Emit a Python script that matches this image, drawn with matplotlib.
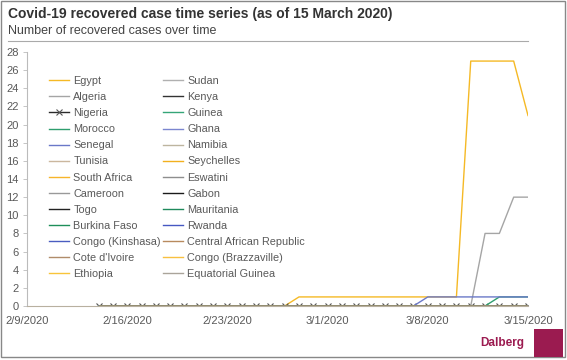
import numpy as np
import pandas as pd
import matplotlib
matplotlib.use('Agg')
import matplotlib.pyplot as plt
from matplotlib.patches import Rectangle

plt.rcParams['font.family'] = ['Liberation Sans', 'DejaVu Sans']

# daily data, 2/14/2020 .. 3/15/2020
dates = pd.date_range('2020-02-14', '2020-03-15', freq='D')
n = len(dates)
zeros = [0] * n

egypt = [0, 0, 0, 0, 0, 0, 0, 0, 0, 0, 0, 0, 0, 0, 1, 1, 1, 1, 1, 1, 1, 1, 1, 1, 1, 1, 27, 27, 27, 27, 21]
algeria = [0, 0, 0, 0, 0, 0, 0, 0, 0, 0, 0, 0, 0, 0, 0, 0, 0, 0, 0, 0, 0, 0, 0, 0, 0, 0, 0, 8, 8, 12, 12]
morocco = [0, 0, 0, 0, 0, 0, 0, 0, 0, 0, 0, 0, 0, 0, 0, 0, 0, 0, 0, 0, 0, 0, 0, 0, 0, 0, 0, 0, 1, 1, 1]
senegal = [0, 0, 0, 0, 0, 0, 0, 0, 0, 0, 0, 0, 0, 0, 0, 0, 0, 0, 0, 0, 0, 0, 0, 1, 1, 1, 1, 1, 1, 1, 1]

countries = ['Egypt', 'Algeria', 'Nigeria', 'Morocco', 'Senegal', 'Tunisia',
             'South Africa', 'Cameroon', 'Togo', 'Burkina Faso',
             'Congo (Kinshasa)', "Cote d'Ivoire", 'Ethiopia', 'Sudan', 'Kenya',
             'Guinea', 'Ghana', 'Namibia', 'Seychelles', 'Eswatini', 'Gabon',
             'Mauritania', 'Rwanda', 'Central African Republic',
             'Congo (Brazzaville)', 'Equatorial Guinea']
values = {c: zeros for c in countries}
values['Egypt'] = egypt
values['Algeria'] = algeria
values['Morocco'] = morocco
values['Senegal'] = senegal

colors = ['#f5b925', '#a5a5a5', '#2a2a2a', '#2e9e6e', '#6a78c8', '#cbb79e',
          '#f7b52a', '#999999', '#222222', '#1e8f5a',
          '#4a5cc0', '#b08c6a', '#f8c43a', '#b0b0b0', '#333333',
          '#35a578', '#7b86d0', '#bdb59f', '#f2b01e', '#8e8e8e', '#1a1a1a',
          '#1f8a5c', '#4658c2', '#b88a5e',
          '#f8c040', '#aaa49a']

fig = plt.figure(figsize=(5.67, 3.6), dpi=100)
ax = fig.add_axes([27 / 567, 1 - 306 / 360, 501 / 567, 254 / 360])

for c, col in zip(countries, colors):
    if c == 'Nigeria':
        ax.plot(dates, values[c], color=col, lw=1.0, marker='x', ms=4,
                mew=0.8, mec='#555555', label=c)
    else:
        ax.plot(dates, values[c], color=col, lw=1.0, label=c)

ax.set_xlim(pd.Timestamp('2020-02-09'), pd.Timestamp('2020-03-15'))
ax.set_ylim(0, 28)
ax.set_yticks(range(0, 29, 2))
ax.set_xticks([pd.Timestamp(d) for d in ['2020-02-09', '2020-02-16', '2020-02-23',
                                          '2020-03-01', '2020-03-08', '2020-03-15']])
ax.set_xticklabels(['2/9/2020', '2/16/2020', '2/23/2020', '3/1/2020', '3/8/2020', '3/15/2020'])
ax.tick_params(axis='x', length=0, pad=7, labelsize=8, labelcolor='#595959')
ax.tick_params(axis='y', length=3, width=0.6, color='#bbbbbb', pad=3,
               labelsize=8, labelcolor='#595959')
ax.spines['top'].set_visible(False)
ax.spines['right'].set_visible(False)
ax.spines['left'].set_color('#bbbbbb')
ax.spines['bottom'].set_color('#b8b0a0')
ax.spines['left'].set_linewidth(0.8)
ax.spines['bottom'].set_linewidth(0.8)

leg = ax.legend(ncol=2, loc='upper left', bbox_to_anchor=(0.035, 0.922),
                frameon=False, fontsize=7.8, labelcolor='#595959',
                handlelength=1.9, handletextpad=0.35, columnspacing=0.2,
                labelspacing=0.56, borderaxespad=0)

# title block
fig.text(8 / 567, 1 - 14 / 360, 'Covid-19 recovered case time series (as of 15 March 2020)',
         fontsize=10, fontweight='bold', color='#333333', va='center', ha='left')
fig.text(8 / 567, 1 - 31 / 360, 'Number of recovered cases over time',
         fontsize=9, color='#444444', va='center', ha='left')
fig.add_artist(plt.Line2D([8 / 567, 528 / 567], [1 - 41 / 360, 1 - 41 / 360],
                          color='#aaaaaa', lw=0.8, transform=fig.transFigure))

# frame and logo
fig.add_artist(Rectangle((1 / 567, 1 - 357 / 360), 564 / 567, 356 / 360,
                         fill=False, edgecolor='#888888', lw=1.0,
                         transform=fig.transFigure))
fig.add_artist(Rectangle((534 / 567, 1 - 357 / 360), 29 / 567, 28 / 360,
                         facecolor='#9b1b50', edgecolor='none',
                         transform=fig.transFigure))
fig.text(502 / 567, 1 - 343 / 360, 'Dalberg', fontsize=8.5, fontweight='bold',
         color='#9b1b50', ha='center', va='center')

fig.savefig('out.png', dpi=100)
